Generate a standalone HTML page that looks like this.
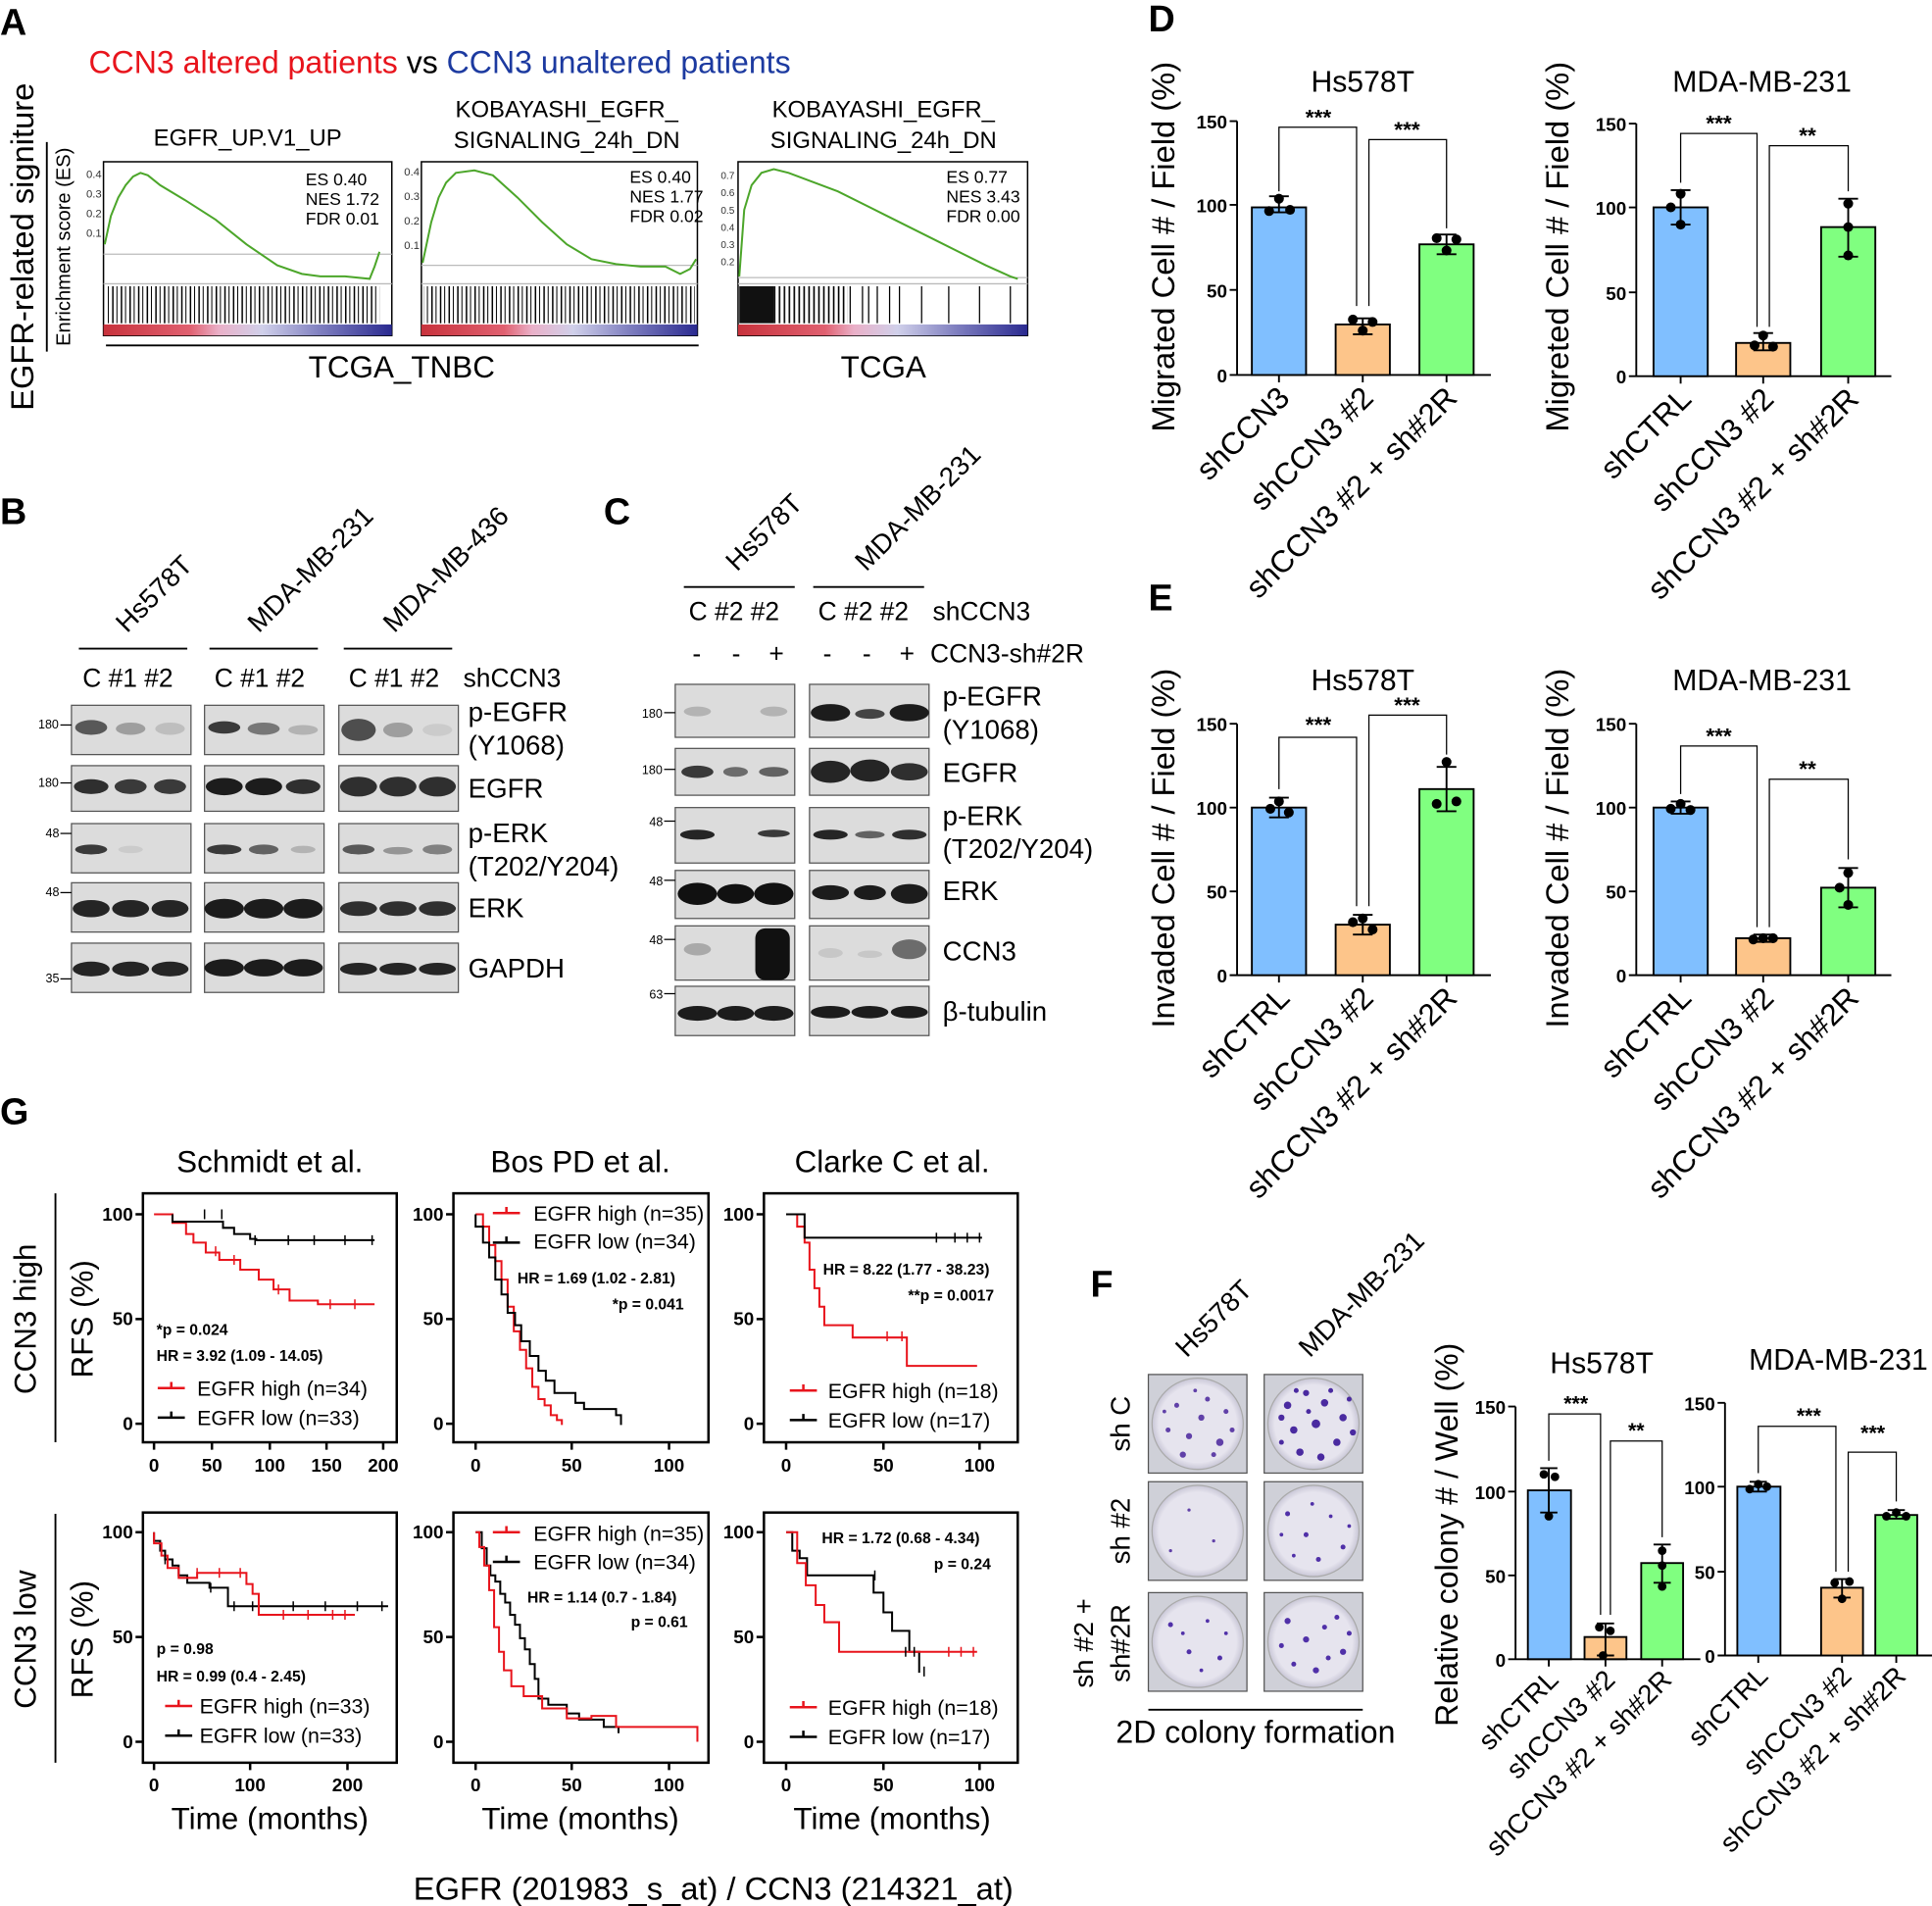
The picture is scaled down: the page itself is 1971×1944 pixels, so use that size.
<!DOCTYPE html>
<html><head><meta charset="utf-8"><style>
html,body{margin:0;padding:0;background:#fff;}
svg{display:block;font-family:"Liberation Sans",Arial,sans-serif;}
.b{font-weight:bold}
</style></head><body>
<svg width="1971" height="1944" viewBox="0 0 1568 1546" xmlns="http://www.w3.org/2000/svg">
<defs>
<linearGradient id="rb" x1="0" x2="1">
<stop offset="0" stop-color="#c8323c"/><stop offset="0.3" stop-color="#e06070"/><stop offset="0.4" stop-color="#eab0c8"/><stop offset="0.55" stop-color="#d0d0ea"/><stop offset="0.75" stop-color="#8080c0"/><stop offset="1" stop-color="#2a2a90"/>
</linearGradient>
<pattern id="bc1" width="7" height="30" patternUnits="userSpaceOnUse"><rect x="0" width="1.2" height="30" fill="#000"/><rect x="3.5" width="0.8" height="30" fill="#000"/></pattern>
<pattern id="bc2" width="4" height="30" patternUnits="userSpaceOnUse"><rect x="0" width="1.3" height="30" fill="#000"/></pattern>
<radialGradient id="plate"><stop offset="0.85" stop-color="#e6e4ee"/><stop offset="1" stop-color="#c8c6d6"/></radialGradient>
</defs>

<!-- ============ PANEL A ============ -->
<text x="0" y="28" font-size="30" class="b">A</text>
<text x="72" y="59" font-size="25.5"><tspan fill="#e8141c">CCN3 altered patients</tspan><tspan fill="#000"> vs </tspan><tspan fill="#1c3aa0">CCN3 unaltered patients</tspan></text>
<text transform="translate(27,200) rotate(-90)" font-size="26" text-anchor="middle">EGFR-related signiture</text>
<line x1="38" y1="115" x2="38" y2="285" stroke="#000" stroke-width="1.5"/>
<text transform="translate(57,200) rotate(-90)" font-size="16" text-anchor="middle">Enrichment score (ES)</text>

<text x="201" y="118" font-size="19" text-anchor="middle">EGFR_UP.V1_UP</text>
<text x="460" y="95" font-size="19" text-anchor="middle">KOBAYASHI_EGFR_</text>
<text x="460" y="120" font-size="19" text-anchor="middle">SIGNALING_24h_DN</text>
<text x="717" y="95" font-size="19" text-anchor="middle">KOBAYASHI_EGFR_</text>
<text x="717" y="120" font-size="19" text-anchor="middle">SIGNALING_24h_DN</text>

<!-- box1 -->
<rect x="84" y="131" width="234" height="141" fill="#fff" stroke="#000" stroke-width="1.2"/>
<line x1="84" y1="206" x2="318" y2="206" stroke="#bbb"/>
<line x1="84" y1="230" x2="318" y2="230" stroke="#bbb"/>
<rect x="86" y="232" width="222" height="30" fill="url(#bc1)"/>
<rect x="84" y="263" width="234" height="9" fill="url(#rb)"/>
<path d="M85,198 L90,175 L96,160 L102,150 L108,143 L114,140 L120,142 L130,150 L150,162 L175,178 L200,198 L225,215 L245,222 L260,224 L280,224 L300,226 L304,216 L308,204" fill="none" stroke="#4ca62a" stroke-width="1.6"/>
<g font-size="9" fill="#333"><text x="70" y="144">0.4</text><text x="70" y="160">0.3</text><text x="70" y="176">0.2</text><text x="70" y="192">0.1</text></g>
<g font-size="14"><text x="248" y="150">ES 0.40</text><text x="248" y="166">NES 1.72</text><text x="248" y="182">FDR 0.01</text></g>

<!-- box2 -->
<rect x="342" y="131" width="224" height="141" fill="#fff" stroke="#000" stroke-width="1.2"/>
<line x1="342" y1="215" x2="566" y2="215" stroke="#bbb"/>
<line x1="342" y1="230" x2="566" y2="230" stroke="#bbb"/>
<rect x="344" y="232" width="220" height="30" fill="url(#bc1)"/>
<rect x="342" y="263" width="224" height="9" fill="url(#rb)"/>
<path d="M343,213 L350,180 L356,160 L362,148 L370,140 L385,138 L400,142 L420,160 L440,180 L460,198 L480,210 L500,214 L520,216 L540,216 L552,222 L560,218 L565,210" fill="none" stroke="#4ca62a" stroke-width="1.6"/>
<g font-size="9" fill="#333"><text x="328" y="142">0.4</text><text x="328" y="162">0.3</text><text x="328" y="182">0.2</text><text x="328" y="202">0.1</text></g>
<g font-size="14"><text x="511" y="148">ES 0.40</text><text x="511" y="164">NES 1.77</text><text x="511" y="180">FDR 0.02</text></g>

<!-- box3 -->
<rect x="599" y="131" width="235" height="141" fill="#fff" stroke="#000" stroke-width="1.2"/>
<line x1="599" y1="225" x2="834" y2="225" stroke="#bbb"/>
<line x1="599" y1="230" x2="834" y2="230" stroke="#bbb"/>
<rect x="600" y="232" width="28" height="30" fill="#111"/>
<rect x="628" y="232" width="60" height="30" fill="url(#bc2)"/>
<path d="M700,232v30M712,232v30M730,232v30M748,232v30M770,232v30M795,232v30M820,232v30M690,232v30M705,232v30M722,232v30" stroke="#000" stroke-width="1"/>
<rect x="599" y="263" width="235" height="9" fill="url(#rb)"/>
<path d="M600,224 L604,170 L610,150 L618,140 L628,137 L640,140 L680,155 L720,175 L760,195 L800,215 L820,224 L826,226" fill="none" stroke="#4ca62a" stroke-width="1.6"/>
<g font-size="8" fill="#333"><text x="585" y="145">0.7</text><text x="585" y="159">0.6</text><text x="585" y="173">0.5</text><text x="585" y="187">0.4</text><text x="585" y="201">0.3</text><text x="585" y="215">0.2</text></g>
<g font-size="14"><text x="768" y="148">ES 0.77</text><text x="768" y="164">NES 3.43</text><text x="768" y="180">FDR 0.00</text></g>

<line x1="86" y1="280" x2="567" y2="280" stroke="#000" stroke-width="1.5"/>
<text x="326" y="306" font-size="25" text-anchor="middle">TCGA_TNBC</text>
<text x="717" y="306" font-size="25" text-anchor="middle">TCGA</text>

<!-- ============ PANEL B ============ -->
<text x="0" y="425" font-size="30" class="b">B</text>
<g font-size="22">
<text transform="translate(103,514) rotate(-45)">Hs578T</text>
<text transform="translate(210,514) rotate(-45)">MDA-MB-231</text>
<text transform="translate(320,514) rotate(-45)">MDA-MB-436</text>
</g>
<g stroke="#000" stroke-width="1.5"><line x1="64" y1="526" x2="152" y2="526"/><line x1="170" y1="526" x2="258" y2="526"/><line x1="279" y1="526" x2="367" y2="526"/></g>
<g font-size="21"><text x="67" y="557">C #1 #2</text><text x="174" y="557">C #1 #2</text><text x="283" y="557">C #1 #2</text><text x="376" y="557">shCCN3</text></g>
<g fill="#dcdcdc" stroke="#555" stroke-width="1">
<rect x="58" y="572" width="97" height="40"/><rect x="166" y="572" width="97" height="40"/><rect x="275" y="572" width="97" height="40"/>
<rect x="58" y="621" width="97" height="37"/><rect x="166" y="621" width="97" height="37"/><rect x="275" y="621" width="97" height="37"/>
<rect x="58" y="668" width="97" height="40"/><rect x="166" y="668" width="97" height="40"/><rect x="275" y="668" width="97" height="40"/>
<rect x="58" y="716" width="97" height="40"/><rect x="166" y="716" width="97" height="40"/><rect x="275" y="716" width="97" height="40"/>
<rect x="58" y="765" width="97" height="40"/><rect x="166" y="765" width="97" height="40"/><rect x="275" y="765" width="97" height="40"/>
</g>
<g fill="#111">
<ellipse cx="74" cy="590" rx="13" ry="6" opacity=".65"/><ellipse cx="106" cy="591" rx="12" ry="5" opacity=".3"/><ellipse cx="138" cy="591" rx="12" ry="5" opacity=".15"/>
<ellipse cx="182" cy="590" rx="13" ry="5" opacity=".8"/><ellipse cx="214" cy="591" rx="13" ry="5" opacity=".5"/><ellipse cx="246" cy="592" rx="12" ry="4" opacity=".2"/>
<ellipse cx="291" cy="592" rx="14" ry="9" opacity=".7"/><ellipse cx="323" cy="592" rx="12" ry="6" opacity=".3"/><ellipse cx="355" cy="592" rx="12" ry="5" opacity=".08"/>
<ellipse cx="74" cy="638" rx="14" ry="6" opacity=".85"/><ellipse cx="106" cy="638" rx="13" ry="6" opacity=".8"/><ellipse cx="138" cy="638" rx="13" ry="6" opacity=".8"/>
<ellipse cx="182" cy="638" rx="15" ry="7" opacity=".95"/><ellipse cx="214" cy="638" rx="15" ry="7" opacity=".95"/><ellipse cx="246" cy="638" rx="14" ry="6" opacity=".85"/>
<ellipse cx="291" cy="638" rx="15" ry="8" opacity=".85"/><ellipse cx="323" cy="638" rx="15" ry="8" opacity=".85"/><ellipse cx="355" cy="638" rx="15" ry="8" opacity=".85"/>
<ellipse cx="74" cy="689" rx="13" ry="4" opacity=".8"/><ellipse cx="106" cy="689" rx="10" ry="3" opacity=".08"/>
<ellipse cx="182" cy="689" rx="14" ry="4" opacity=".8"/><ellipse cx="214" cy="689" rx="12" ry="4" opacity=".6"/><ellipse cx="246" cy="689" rx="10" ry="3" opacity=".2"/>
<ellipse cx="291" cy="689" rx="13" ry="4" opacity=".65"/><ellipse cx="323" cy="690" rx="12" ry="3" opacity=".35"/><ellipse cx="355" cy="689" rx="12" ry="4" opacity=".45"/>
<ellipse cx="74" cy="737" rx="15" ry="7" opacity=".9"/><ellipse cx="106" cy="737" rx="15" ry="7" opacity=".9"/><ellipse cx="138" cy="737" rx="15" ry="7" opacity=".9"/>
<ellipse cx="182" cy="737" rx="16" ry="8" opacity=".95"/><ellipse cx="214" cy="737" rx="16" ry="8" opacity=".95"/><ellipse cx="246" cy="737" rx="16" ry="8" opacity=".95"/>
<ellipse cx="291" cy="737" rx="15" ry="6" opacity=".85"/><ellipse cx="323" cy="737" rx="15" ry="6" opacity=".85"/><ellipse cx="355" cy="737" rx="15" ry="6" opacity=".85"/>
<ellipse cx="74" cy="786" rx="15" ry="6" opacity=".9"/><ellipse cx="106" cy="786" rx="15" ry="6" opacity=".9"/><ellipse cx="138" cy="786" rx="15" ry="6" opacity=".9"/>
<ellipse cx="182" cy="785" rx="16" ry="7" opacity=".95"/><ellipse cx="214" cy="785" rx="16" ry="7" opacity=".95"/><ellipse cx="246" cy="785" rx="16" ry="7" opacity=".95"/>
<ellipse cx="291" cy="786" rx="15" ry="5" opacity=".9"/><ellipse cx="323" cy="786" rx="15" ry="5" opacity=".9"/><ellipse cx="355" cy="786" rx="15" ry="5" opacity=".9"/>
</g>
<g font-size="10"><text x="31" y="591">180</text><text x="31" y="638">180</text><text x="37" y="679">48</text><text x="37" y="727">48</text><text x="37" y="797">35</text></g>
<g stroke="#000"><line x1="49" y1="588" x2="58" y2="588"/><line x1="49" y1="635" x2="58" y2="635"/><line x1="49" y1="676" x2="58" y2="676"/><line x1="49" y1="724" x2="58" y2="724"/><line x1="49" y1="794" x2="58" y2="794"/></g>
<g font-size="22"><text x="380" y="585">p-EGFR</text><text x="380" y="612">(Y1068)</text><text x="380" y="647">EGFR</text><text x="380" y="683">p-ERK</text><text x="380" y="710">(T202/Y204)</text><text x="380" y="744">ERK</text><text x="380" y="793">GAPDH</text></g>

<!-- ============ PANEL C ============ -->
<text x="490" y="425" font-size="30" class="b">C</text>
<g font-size="22">
<text transform="translate(598,464) rotate(-45)">Hs578T</text>
<text transform="translate(703,464) rotate(-45)">MDA-MB-231</text>
</g>
<g stroke="#000" stroke-width="1.5"><line x1="555" y1="476" x2="645" y2="476"/><line x1="660" y1="476" x2="750" y2="476"/></g>
<g font-size="21"><text x="559" y="503">C #2 #2</text><text x="664" y="503">C #2 #2</text><text x="757" y="503">shCCN3</text>
<text x="562" y="537">-</text><text x="594" y="537">-</text><text x="624" y="537">+</text>
<text x="668" y="537">-</text><text x="700" y="537">-</text><text x="730" y="537">+</text>
<text x="755" y="537">CCN3-sh#2R</text></g>
<g fill="#dcdcdc" stroke="#555" stroke-width="1">
<rect x="548" y="555" width="97" height="43"/><rect x="657" y="555" width="97" height="43"/>
<rect x="548" y="607" width="97" height="38"/><rect x="657" y="607" width="97" height="38"/>
<rect x="548" y="655" width="97" height="45"/><rect x="657" y="655" width="97" height="45"/>
<rect x="548" y="706" width="97" height="39"/><rect x="657" y="706" width="97" height="39"/>
<rect x="548" y="751" width="97" height="44"/><rect x="657" y="751" width="97" height="44"/>
<rect x="548" y="800" width="97" height="40"/><rect x="657" y="800" width="97" height="40"/>
</g>
<g fill="#111">
<ellipse cx="566" cy="577" rx="11" ry="4" opacity=".2"/><ellipse cx="628" cy="577" rx="11" ry="4" opacity=".2"/>
<ellipse cx="674" cy="578" rx="16" ry="7" opacity=".95"/><ellipse cx="706" cy="579" rx="12" ry="4" opacity=".75"/><ellipse cx="738" cy="578" rx="16" ry="7" opacity=".95"/>
<ellipse cx="566" cy="626" rx="13" ry="5" opacity=".8"/><ellipse cx="597" cy="626" rx="10" ry="4" opacity=".55"/><ellipse cx="628" cy="626" rx="12" ry="4" opacity=".6"/>
<ellipse cx="674" cy="626" rx="16" ry="9" opacity=".9"/><ellipse cx="706" cy="625" rx="16" ry="9" opacity=".9"/><ellipse cx="738" cy="626" rx="15" ry="7" opacity=".85"/>
<ellipse cx="566" cy="677" rx="14" ry="4" opacity=".9"/><ellipse cx="628" cy="676" rx="13" ry="3" opacity=".8"/>
<ellipse cx="674" cy="677" rx="14" ry="4" opacity=".9"/><ellipse cx="706" cy="677" rx="12" ry="3" opacity=".6"/><ellipse cx="738" cy="677" rx="14" ry="4" opacity=".85"/>
<ellipse cx="566" cy="725" rx="16" ry="9" opacity="1"/><ellipse cx="597" cy="725" rx="15" ry="8" opacity="1"/><ellipse cx="628" cy="725" rx="16" ry="9" opacity="1"/>
<ellipse cx="674" cy="724" rx="15" ry="6" opacity=".95"/><ellipse cx="706" cy="724" rx="13" ry="6" opacity=".95"/><ellipse cx="738" cy="725" rx="15" ry="8" opacity=".95"/>
<ellipse cx="566" cy="770" rx="11" ry="5" opacity=".25"/><rect x="613" y="753" width="28" height="42" rx="8" opacity="1"/>
<ellipse cx="674" cy="773" rx="10" ry="4" opacity=".1"/><ellipse cx="706" cy="774" rx="10" ry="3" opacity=".1"/><ellipse cx="738" cy="770" rx="14" ry="8" opacity=".55"/>
<ellipse cx="566" cy="822" rx="16" ry="6" opacity=".95"/><ellipse cx="597" cy="822" rx="15" ry="6" opacity=".95"/><ellipse cx="628" cy="822" rx="16" ry="6" opacity=".95"/>
<ellipse cx="674" cy="821" rx="16" ry="5" opacity=".95"/><ellipse cx="706" cy="821" rx="15" ry="5" opacity=".95"/><ellipse cx="738" cy="821" rx="15" ry="5" opacity=".95"/>
</g>
<g font-size="10"><text x="521" y="582">180</text><text x="521" y="628">180</text><text x="527" y="670">48</text><text x="527" y="718">48</text><text x="527" y="766">48</text><text x="527" y="810">63</text></g>
<g stroke="#000"><line x1="539" y1="578" x2="548" y2="578"/><line x1="539" y1="624" x2="548" y2="624"/><line x1="539" y1="666" x2="548" y2="666"/><line x1="539" y1="714" x2="548" y2="714"/><line x1="539" y1="762" x2="548" y2="762"/><line x1="539" y1="806" x2="548" y2="806"/></g>
<g font-size="22"><text x="765" y="572">p-EGFR</text><text x="765" y="599">(Y1068)</text><text x="765" y="634">EGFR</text><text x="765" y="669">p-ERK</text><text x="765" y="696">(T202/Y204)</text><text x="765" y="730">ERK</text><text x="765" y="779">CCN3</text><text x="765" y="828">β-tubulin</text></g>

<!-- ============ PANEL D ============ -->
<text x="932" y="25" font-size="30" class="b">D</text>
<text x="1106" y="74" font-size="24" text-anchor="middle">Hs578T</text>
<text transform="translate(953,200) rotate(-90)" font-size="26" text-anchor="middle">Migrated Cell # / Field (%)</text>
<g stroke="#000" stroke-width="1.5" fill="none"><path d="M1004,98V304H1210M998,98H1004M998,166H1004M998,235H1004M998,304H1004M1038,304v6M1106,304v6M1174,304v6"/></g>
<g font-size="15" class="b" text-anchor="end"><text x="996" y="104">150</text><text x="996" y="172">100</text><text x="996" y="241">50</text><text x="996" y="310">0</text></g>
<rect x="1016" y="168" width="44" height="136" fill="#80bfff" stroke="#000" stroke-width="1.5"/>
<rect x="1084" y="263" width="44" height="41" fill="#fdc58a" stroke="#000" stroke-width="1.5"/>
<rect x="1152" y="198" width="44" height="106" fill="#80ff80" stroke="#000" stroke-width="1.5"/>
<g stroke="#000" stroke-width="1.5"><path d="M1038,159V172M1030,159H1046M1030,172H1046M1106,258V271M1098,258H1114M1098,271H1114M1174,190V206M1166,190H1182M1166,206H1182"/></g>
<g fill="#000"><circle cx="1030" cy="171" r="4"/><circle cx="1038" cy="161" r="4"/><circle cx="1047" cy="170" r="4"/><circle cx="1098" cy="259" r="4"/><circle cx="1106" cy="268" r="4"/><circle cx="1114" cy="261" r="4"/><circle cx="1166" cy="193" r="4"/><circle cx="1174" cy="203" r="4"/><circle cx="1182" cy="194" r="4"/></g>
<g stroke="#000" fill="none"><path d="M1038,155V103H1101V248M1111,248V113H1174V185"/></g>
<g font-size="18" class="b" text-anchor="middle"><text x="1070" y="101">***</text><text x="1142" y="111">***</text></g>
<g font-size="25" text-anchor="end">
<text transform="translate(1048,324) rotate(-45)">shCCN3</text>
<text transform="translate(1116,324) rotate(-45)">shCCN3 #2</text>
<text transform="translate(1184,324) rotate(-45)">shCCN3 #2 + sh#2R</text>
</g>
<text x="1430" y="74" font-size="24" text-anchor="middle">MDA-MB-231</text>
<text transform="translate(1273,200) rotate(-90)" font-size="26" text-anchor="middle">Migreted Cell # / Field (%)</text>
<g stroke="#000" stroke-width="1.5" fill="none"><path d="M1328,100V305H1535M1322,100H1328M1322,168H1328M1322,237H1328M1322,305H1328M1364,305v6M1431,305v6M1500,305v6"/></g>
<g font-size="15" class="b" text-anchor="end"><text x="1320" y="106">150</text><text x="1320" y="174">100</text><text x="1320" y="243">50</text><text x="1320" y="311">0</text></g>
<rect x="1342" y="168" width="44" height="137" fill="#80bfff" stroke="#000" stroke-width="1.5"/>
<rect x="1409" y="278" width="44" height="27" fill="#fdc58a" stroke="#000" stroke-width="1.5"/>
<rect x="1478" y="184" width="44" height="121" fill="#80ff80" stroke="#000" stroke-width="1.5"/>
<g stroke="#000" stroke-width="1.5"><path d="M1364,154V182M1356,154H1372M1356,182H1372M1431,270V284M1423,270H1439M1423,284H1439M1500,161V208M1492,161H1508M1492,208H1508"/></g>
<g fill="#000"><circle cx="1364" cy="157" r="4"/><circle cx="1364" cy="182" r="4"/><circle cx="1356" cy="168" r="4"/><circle cx="1424" cy="280" r="4"/><circle cx="1431" cy="272" r="4"/><circle cx="1439" cy="281" r="4"/><circle cx="1500" cy="165" r="4"/><circle cx="1500" cy="207" r="4"/><circle cx="1500" cy="184" r="4"/></g>
<g stroke="#000" fill="none"><path d="M1364,148V108H1426V265M1436,265V118H1500V155"/></g>
<g font-size="18" class="b" text-anchor="middle"><text x="1395" y="106">***</text><text x="1467" y="116">**</text></g>
<g font-size="25" text-anchor="end">
<text transform="translate(1374,325) rotate(-45)">shCTRL</text>
<text transform="translate(1441,325) rotate(-45)">shCCN3 #2</text>
<text transform="translate(1510,325) rotate(-45)">shCCN3 #2 + sh#2R</text>
</g>

<!-- ============ PANEL E ============ -->
<text x="932" y="495" font-size="30" class="b">E</text>
<text x="1106" y="560" font-size="24" text-anchor="middle">Hs578T</text>
<text transform="translate(953,688) rotate(-90)" font-size="26" text-anchor="middle">Invaded Cell # / Field (%)</text>
<g stroke="#000" stroke-width="1.5" fill="none"><path d="M1004,587V791H1210M998,587H1004M998,655H1004M998,723H1004M998,791H1004M1038,791v6M1106,791v6M1174,791v6"/></g>
<g font-size="15" class="b" text-anchor="end"><text x="996" y="593">150</text><text x="996" y="661">100</text><text x="996" y="729">50</text><text x="996" y="797">0</text></g>
<rect x="1016" y="655" width="44" height="136" fill="#80bfff" stroke="#000" stroke-width="1.5"/>
<rect x="1084" y="750" width="44" height="41" fill="#fdc58a" stroke="#000" stroke-width="1.5"/>
<rect x="1152" y="640" width="44" height="151" fill="#80ff80" stroke="#000" stroke-width="1.5"/>
<g stroke="#000" stroke-width="1.5"><path d="M1038,647V663M1030,647H1046M1030,663H1046M1106,742V758M1098,742H1114M1098,758H1114M1174,622V658M1166,622H1182M1166,658H1182"/></g>
<g fill="#000"><circle cx="1031" cy="656" r="4"/><circle cx="1038" cy="650" r="4"/><circle cx="1046" cy="659" r="4"/><circle cx="1098" cy="748" r="4"/><circle cx="1106" cy="745" r="4"/><circle cx="1114" cy="754" r="4"/><circle cx="1174" cy="618" r="4"/><circle cx="1166" cy="652" r="4"/><circle cx="1182" cy="650" r="4"/></g>
<g stroke="#000" fill="none"><path d="M1038,640V598H1101V735M1111,735V580H1174V612"/></g>
<g font-size="18" class="b" text-anchor="middle"><text x="1070" y="594">***</text><text x="1142" y="578">***</text></g>
<g font-size="25" text-anchor="end">
<text transform="translate(1048,811) rotate(-45)">shCTRL</text>
<text transform="translate(1116,811) rotate(-45)">shCCN3 #2</text>
<text transform="translate(1184,811) rotate(-45)">shCCN3 #2 + sh#2R</text>
</g>
<text x="1430" y="560" font-size="24" text-anchor="middle">MDA-MB-231</text>
<text transform="translate(1273,688) rotate(-90)" font-size="26" text-anchor="middle">Invaded Cell # / Field (%)</text>
<g stroke="#000" stroke-width="1.5" fill="none"><path d="M1328,587V791H1535M1322,587H1328M1322,655H1328M1322,723H1328M1322,791H1328M1364,791v6M1431,791v6M1500,791v6"/></g>
<g font-size="15" class="b" text-anchor="end"><text x="1320" y="593">150</text><text x="1320" y="661">100</text><text x="1320" y="729">50</text><text x="1320" y="797">0</text></g>
<rect x="1342" y="655" width="44" height="136" fill="#80bfff" stroke="#000" stroke-width="1.5"/>
<rect x="1409" y="761" width="44" height="30" fill="#fdc58a" stroke="#000" stroke-width="1.5"/>
<rect x="1478" y="720" width="44" height="71" fill="#80ff80" stroke="#000" stroke-width="1.5"/>
<g stroke="#000" stroke-width="1.5"><path d="M1364,650V660M1356,650H1372M1356,660H1372M1431,758V764M1423,758H1439M1423,764H1439M1500,704V736M1492,704H1508M1492,736H1508"/></g>
<g fill="#000"><circle cx="1356" cy="656" r="4"/><circle cx="1364" cy="652" r="4"/><circle cx="1372" cy="657" r="4"/><circle cx="1423" cy="762" r="4"/><circle cx="1431" cy="761" r="4"/><circle cx="1439" cy="761" r="4"/><circle cx="1500" cy="708" r="4"/><circle cx="1493" cy="720" r="4"/><circle cx="1500" cy="734" r="4"/></g>
<g stroke="#000" fill="none"><path d="M1364,644V605H1426V752M1436,752V632H1500V697"/></g>
<g font-size="18" class="b" text-anchor="middle"><text x="1395" y="603">***</text><text x="1467" y="630">**</text></g>
<g font-size="25" text-anchor="end">
<text transform="translate(1374,811) rotate(-45)">shCTRL</text>
<text transform="translate(1441,811) rotate(-45)">shCCN3 #2</text>
<text transform="translate(1510,811) rotate(-45)">shCCN3 #2 + sh#2R</text>
</g>

<!-- ============ PANEL G ============ -->
<text x="0" y="912" font-size="30" class="b">G</text>
<g font-size="25" text-anchor="middle"><text x="219" y="951">Schmidt et al.</text><text x="471" y="951">Bos PD et al.</text><text x="724" y="951">Clarke C et al.</text></g>
<text transform="translate(29,1070) rotate(-90)" font-size="25" text-anchor="middle">CCN3 high</text>
<text transform="translate(75,1070) rotate(-90)" font-size="25" text-anchor="middle">RFS (%)</text>
<line x1="45" y1="968" x2="45" y2="1170" stroke="#000" stroke-width="1.5"/>
<text transform="translate(29,1330) rotate(-90)" font-size="25" text-anchor="middle">CCN3 low</text>
<text transform="translate(75,1330) rotate(-90)" font-size="25" text-anchor="middle">RFS (%)</text>
<line x1="45" y1="1228" x2="45" y2="1430" stroke="#000" stroke-width="1.5"/>

<g fill="none" stroke="#000" stroke-width="2">
<rect x="116" y="968" width="206" height="202"/><rect x="368" y="968" width="207" height="202"/><rect x="620" y="968" width="206" height="202"/>
<rect x="116" y="1227" width="206" height="203"/><rect x="368" y="1227" width="207" height="203"/><rect x="620" y="1227" width="206" height="203"/>
<path d="M110,985H116M110,1070H116M110,1155H116M362,985H368M362,1070H368M362,1155H368M614,985H620M614,1070H620M614,1155H620"/>
<path d="M110,1243H116M110,1328H116M110,1413H116M362,1243H368M362,1328H368M362,1413H368M614,1243H620M614,1328H620M614,1413H620"/>
<path d="M125,1170v6M172,1170v6M219,1170v6M265,1170v6M311,1170v6M386,1170v6M464,1170v6M543,1170v6M638,1170v6M717,1170v6M795,1170v6"/>
<path d="M125,1430v6M203,1430v6M282,1430v6M386,1430v6M464,1430v6M543,1430v6M638,1430v6M717,1430v6M795,1430v6"/>
</g>
<g font-size="15" class="b" text-anchor="end">
<text x="108" y="990">100</text><text x="108" y="1075">50</text><text x="108" y="1160">0</text>
<text x="360" y="990">100</text><text x="360" y="1075">50</text><text x="360" y="1160">0</text>
<text x="612" y="990">100</text><text x="612" y="1075">50</text><text x="612" y="1160">0</text>
<text x="108" y="1248">100</text><text x="108" y="1333">50</text><text x="108" y="1418">0</text>
<text x="360" y="1248">100</text><text x="360" y="1333">50</text><text x="360" y="1418">0</text>
<text x="612" y="1248">100</text><text x="612" y="1333">50</text><text x="612" y="1418">0</text>
</g>
<g font-size="15" class="b" text-anchor="middle">
<text x="125" y="1194">0</text><text x="172" y="1194">50</text><text x="219" y="1194">100</text><text x="265" y="1194">150</text><text x="311" y="1194">200</text>
<text x="386" y="1194">0</text><text x="464" y="1194">50</text><text x="543" y="1194">100</text>
<text x="638" y="1194">0</text><text x="717" y="1194">50</text><text x="795" y="1194">100</text>
<text x="125" y="1453">0</text><text x="203" y="1453">100</text><text x="282" y="1453">200</text>
<text x="386" y="1453">0</text><text x="464" y="1453">50</text><text x="543" y="1453">100</text>
<text x="638" y="1453">0</text><text x="717" y="1453">50</text><text x="795" y="1453">100</text>
</g>
<g font-size="25" text-anchor="middle"><text x="219" y="1484">Time (months)</text><text x="471" y="1484">Time (months)</text><text x="724" y="1484">Time (months)</text></g>
<text x="579" y="1541" font-size="26" text-anchor="middle">EGFR (201983_s_at) / CCN3 (214321_at)</text>

<g fill="none" stroke-width="1.6">
<path stroke="#e8141c" d="M125,985H140V992H151V1001H157V1008H167V1016H178V1022H195V1030H210V1038H222V1046H235V1055H258V1058H304"/>
<path stroke="#000" d="M140,985V991H181V996H190V1001H203V1005H208V1006H304"/>
<path stroke="#e8141c" d="M386,985H392V995H397V1010H402V1023H407V1038H412V1060H417V1080H422V1095H427V1110H432V1125H437V1135H442V1140H447V1148H452V1152H456V1156"/>
<path stroke="#000" d="M386,985V995H392V1008H397V1020H402V1038H407V1050H412V1065H418V1075H423V1088H430V1100H437V1112H443V1120H450V1130H467V1138H474V1143H500V1148H504V1156"/>
<path stroke="#e8141c" d="M638,985H647V995H653V1008H657V1030H661V1045H665V1060H669V1075H692V1085H736V1108H793"/>
<path stroke="#000" d="M638,985H653V1004H797"/>
</g>
<g stroke="#000" stroke-width="1.2"><path d="M166,981v8M180,981v8M207,1002v8M234,1002v8M255,1002v8M280,1002v8M302,1002v8M760,1000v8M775,1000v8M785,1000v8M795,1000v8"/></g>
<g stroke="#e8141c" stroke-width="1.2"><path d="M175,1011v8M190,1018v8M226,1042v8M268,1054v8M288,1054v8M720,1080v8M732,1080v8"/></g>
<g font-size="12.5" class="b">
<text x="127" y="1083">*p = 0.024</text><text x="127" y="1104">HR = 3.92 (1.09 - 14.05)</text>
<text x="420" y="1041">HR = 1.69 (1.02 - 2.81)</text><text x="497" y="1062">*p = 0.041</text>
<text x="668" y="1034">HR = 8.22 (1.77 - 38.23)</text><text x="737" y="1055">**p = 0.0017</text>
<text x="127" y="1342">p = 0.98</text><text x="127" y="1364">HR = 0.99 (0.4 - 2.45)</text>
<text x="428" y="1300">HR = 1.14 (0.7 - 1.84)</text><text x="512" y="1320">p = 0.61</text>
<text x="667" y="1252">HR = 1.72 (0.68 - 4.34)</text><text x="758" y="1273">p = 0.24</text>
</g>
<g font-size="17">
<text x="160" y="1132">EGFR high (n=34)</text><text x="160" y="1156">EGFR low (n=33)</text>
<text x="433" y="990">EGFR high (n=35)</text><text x="433" y="1013">EGFR low (n=34)</text>
<text x="672" y="1134">EGFR high (n=18)</text><text x="672" y="1158">EGFR low (n=17)</text>
<text x="162" y="1390">EGFR high (n=33)</text><text x="162" y="1414">EGFR low (n=33)</text>
<text x="433" y="1250">EGFR high (n=35)</text><text x="433" y="1273">EGFR low (n=34)</text>
<text x="672" y="1391">EGFR high (n=18)</text><text x="672" y="1415">EGFR low (n=17)</text>
</g>
<g stroke-width="2" fill="none">
<path stroke="#e8141c" d="M128,1126H150M139,1121v5M400,984H422M411,979v5M641,1128H663M652,1123v5M134,1384H156M145,1379v5M400,1243H422M411,1238v5M641,1385H663M652,1380v5"/>
<path stroke="#000" d="M128,1150H150M139,1145v5M400,1008H422M411,1003v5M641,1152H663M652,1147v5M134,1408H156M145,1403v5M400,1267H422M411,1262v5M641,1409H663M652,1404v5"/>
</g>

<g fill="none" stroke-width="1.6">
<path stroke="#000" d="M125,1243V1250H130V1258H134V1265H140V1270H145V1278H152V1284H170V1288H185V1303H315"/>
<path stroke="#e8141c" d="M125,1243V1252H131V1262H136V1272H145V1280H160V1276H200V1285H205V1293H210V1310H288"/>
<path stroke="#000" d="M386,1243H391V1256H395V1270H398V1278H402V1283H406V1293H410V1300H414V1310H418V1318H422V1329H426V1338H430V1350H434V1362H437V1378H445V1383H460V1390H470V1395H490V1401H502V1406"/>
<path stroke="#e8141c" d="M386,1243H389V1255H393V1270H397V1290H401V1320H405V1340H409V1355H415V1368H425V1376H440V1386H460V1394H480V1392H500V1401H566V1413"/>
<path stroke="#000" d="M638,1243H643V1258H649V1264H655V1278H709V1292H717V1308H724V1323H738V1340H746V1357"/>
<path stroke="#e8141c" d="M638,1243H647V1268H654V1286H662V1302H669V1316H681V1340H793"/>
</g>
<g stroke="#000" stroke-width="1.2"><path d="M134,1261v8M171,1284v8M190,1299v8M205,1299v8M238,1299v8M264,1299v8M290,1299v8M310,1299v8M710,1274v8M735,1336v8M742,1336v8M750,1352v8"/></g>
<g stroke="#e8141c" stroke-width="1.2"><path d="M160,1272v8M178,1272v8M195,1272v8M230,1306v8M250,1306v8M270,1306v8M280,1306v8M770,1336v8M780,1336v8M790,1336v8"/></g>

<!-- ============ PANEL F ============ -->
<text x="885" y="1052" font-size="30" class="b">F</text>
<g font-size="22">
<text transform="translate(963,1102) rotate(-45)">Hs578T</text>
<text transform="translate(1063,1102) rotate(-45)">MDA-MB-231</text>
</g>
<g font-size="22" text-anchor="middle">
<text transform="translate(917,1155) rotate(-90)">sh C</text>
<text transform="translate(917,1242) rotate(-90)">sh #2</text>
<text transform="translate(887,1333) rotate(-90)">sh #2 +</text>
<text transform="translate(917,1333) rotate(-90)">sh#2R</text>
</g>
<g stroke="#555" stroke-width="1" fill="#cfd0d8">
<rect x="932" y="1115" width="80" height="80"/><rect x="1026" y="1115" width="80" height="80"/>
<rect x="932" y="1202" width="80" height="80"/><rect x="1026" y="1202" width="80" height="80"/>
<rect x="932" y="1292" width="80" height="80"/><rect x="1026" y="1292" width="80" height="80"/>
</g>
<g fill="url(#plate)" stroke="#aaa">
<circle cx="972" cy="1155" r="37"/><circle cx="1066" cy="1155" r="37"/>
<circle cx="972" cy="1242" r="37"/><circle cx="1066" cy="1242" r="37"/>
<circle cx="972" cy="1332" r="37"/><circle cx="1066" cy="1332" r="37"/>
</g>
<g fill="#6040a8">
<circle cx="955" cy="1140" r="2"/><circle cx="965" cy="1165" r="2.5"/><circle cx="980" cy="1135" r="2"/><circle cx="990" cy="1170" r="3"/><circle cx="948" cy="1160" r="2"/><circle cx="975" cy="1150" r="2.5"/><circle cx="995" cy="1145" r="2"/><circle cx="960" cy="1180" r="2.5"/><circle cx="985" cy="1180" r="2"/><circle cx="945" cy="1145" r="1.5"/><circle cx="1000" cy="1160" r="2"/><circle cx="970" cy="1128" r="1.5"/>
</g>
<g fill="#4a2aa0">
<circle cx="1045" cy="1140" r="3"/><circle cx="1060" cy="1130" r="2.5"/><circle cx="1075" cy="1138" r="3"/><circle cx="1090" cy="1150" r="3"/><circle cx="1050" cy="1160" r="3"/><circle cx="1068" cy="1155" r="3.5"/><circle cx="1085" cy="1170" r="3"/><circle cx="1055" cy="1178" r="3"/><circle cx="1040" cy="1150" r="2.5"/><circle cx="1095" cy="1135" r="2"/><circle cx="1072" cy="1182" r="3"/><circle cx="1080" cy="1128" r="2"/><circle cx="1062" cy="1145" r="2"/><circle cx="1098" cy="1162" r="2.5"/><circle cx="1040" cy="1170" r="2"/><circle cx="1052" cy="1128" r="2"/>
</g>
<g fill="#6040a8"><circle cx="965" cy="1225" r="1.3"/><circle cx="985" cy="1250" r="1.3"/><circle cx="950" cy="1258" r="1.3"/></g>
<g fill="#5030a8">
<circle cx="1045" cy="1228" r="2"/><circle cx="1060" cy="1245" r="2"/><circle cx="1080" cy="1230" r="1.5"/><circle cx="1090" cy="1255" r="2"/><circle cx="1050" cy="1262" r="1.5"/><circle cx="1070" cy="1265" r="2"/><circle cx="1040" cy="1245" r="1.5"/><circle cx="1095" cy="1238" r="1.5"/><circle cx="1065" cy="1220" r="1.5"/>
<circle cx="950" cy="1318" r="2"/><circle cx="965" cy="1340" r="2"/><circle cx="980" cy="1315" r="1.5"/><circle cx="990" cy="1345" r="2"/><circle cx="960" cy="1325" r="1.5"/><circle cx="975" cy="1355" r="1.5"/><circle cx="995" cy="1325" r="1.5"/>
<circle cx="1045" cy="1315" r="2.5"/><circle cx="1060" cy="1330" r="2.5"/><circle cx="1075" cy="1320" r="2"/><circle cx="1090" cy="1340" r="2.5"/><circle cx="1050" cy="1350" r="2"/><circle cx="1068" cy="1355" r="2.5"/><circle cx="1085" cy="1312" r="2"/><circle cx="1040" cy="1335" r="2"/><circle cx="1095" cy="1325" r="2"/><circle cx="1078" cy="1345" r="2"/>
</g>
<line x1="932" y1="1387" x2="1106" y2="1387" stroke="#000" stroke-width="1.5"/>
<text x="1019" y="1414" font-size="25.5" text-anchor="middle">2D colony formation</text>

<text x="1300" y="1114" font-size="24" text-anchor="middle">Hs578T</text>
<text transform="translate(1183,1245) rotate(-90)" font-size="25.5" text-anchor="middle">Relative colony # / Well (%)</text>
<g stroke="#000" stroke-width="1.5" fill="none"><path d="M1230,1141V1346H1380M1224,1141H1230M1224,1210H1230M1224,1278H1230M1224,1346H1230M1257,1346v6M1303,1346v6M1349,1346v6"/></g>
<g font-size="15" class="b" text-anchor="end"><text x="1222" y="1147">150</text><text x="1222" y="1216">100</text><text x="1222" y="1284">50</text><text x="1222" y="1352">0</text></g>
<rect x="1240" y="1209" width="35" height="137" fill="#80bfff" stroke="#000" stroke-width="1.5"/>
<rect x="1286" y="1328" width="34" height="18" fill="#fdc58a" stroke="#000" stroke-width="1.5"/>
<rect x="1332" y="1268" width="34" height="78" fill="#80ff80" stroke="#000" stroke-width="1.5"/>
<g stroke="#000" stroke-width="1.5"><path d="M1257,1191V1227M1250,1191H1264M1250,1227H1264M1303,1317V1343M1296,1317H1310M1296,1343H1310M1349,1253V1284M1342,1253H1356M1342,1284H1356"/></g>
<g fill="#000"><circle cx="1253" cy="1196" r="3.5"/><circle cx="1262" cy="1198" r="3.5"/><circle cx="1257" cy="1230" r="3.5"/><circle cx="1298" cy="1320" r="3.5"/><circle cx="1307" cy="1323" r="3.5"/><circle cx="1301" cy="1343" r="3.5"/><circle cx="1349" cy="1258" r="3.5"/><circle cx="1349" cy="1270" r="3.5"/><circle cx="1349" cy="1287" r="3.5"/></g>
<g stroke="#000" fill="none"><path d="M1257,1185V1147H1299V1310M1307,1310V1169H1349V1247"/></g>
<g font-size="17" class="b" text-anchor="middle"><text x="1279" y="1144">***</text><text x="1328" y="1166">**</text></g>
<g font-size="22" text-anchor="end">
<text transform="translate(1266,1364) rotate(-45)">shCTRL</text>
<text transform="translate(1312,1364) rotate(-45)">shCCN3 #2</text>
<text transform="translate(1358,1364) rotate(-45)">shCCN3 #2 + sh#2R</text>
</g>
<text x="1492" y="1111" font-size="24" text-anchor="middle">MDA-MB-231</text>
<g stroke="#000" stroke-width="1.5" fill="none"><path d="M1400,1138V1343H1568M1394,1138H1400M1394,1206H1400M1394,1275H1400M1394,1343H1400M1427,1343v6M1495,1343v6M1539,1343v6"/></g>
<g font-size="15" class="b" text-anchor="end"><text x="1392" y="1144">150</text><text x="1392" y="1212">100</text><text x="1392" y="1281">50</text><text x="1392" y="1349">0</text></g>
<rect x="1410" y="1206" width="35" height="137" fill="#80bfff" stroke="#000" stroke-width="1.5"/>
<rect x="1478" y="1288" width="34" height="55" fill="#fdc58a" stroke="#000" stroke-width="1.5"/>
<rect x="1522" y="1229" width="34" height="114" fill="#80ff80" stroke="#000" stroke-width="1.5"/>
<g stroke="#000" stroke-width="1.5"><path d="M1427,1202V1210M1420,1202H1434M1420,1210H1434M1495,1281V1296M1488,1281H1502M1488,1296H1502M1539,1225V1232M1532,1225H1546M1532,1232H1546"/></g>
<g fill="#000"><circle cx="1420" cy="1208" r="3.5"/><circle cx="1427" cy="1204" r="3.5"/><circle cx="1434" cy="1206" r="3.5"/><circle cx="1489" cy="1284" r="3.5"/><circle cx="1501" cy="1283" r="3.5"/><circle cx="1495" cy="1297" r="3.5"/><circle cx="1531" cy="1230" r="3.5"/><circle cx="1539" cy="1227" r="3.5"/><circle cx="1547" cy="1230" r="3.5"/></g>
<g stroke="#000" fill="none"><path d="M1427,1195V1157H1490V1275M1500,1275V1178H1539V1218"/></g>
<g font-size="17" class="b" text-anchor="middle"><text x="1468" y="1154">***</text><text x="1520" y="1168">***</text></g>
<g font-size="22" text-anchor="end">
<text transform="translate(1436,1361) rotate(-45)">shCTRL</text>
<text transform="translate(1504,1361) rotate(-45)">shCCN3 #2</text>
<text transform="translate(1548,1361) rotate(-45)">shCCN3 #2 + sh#2R</text>
</g>
</svg>
</body></html>
